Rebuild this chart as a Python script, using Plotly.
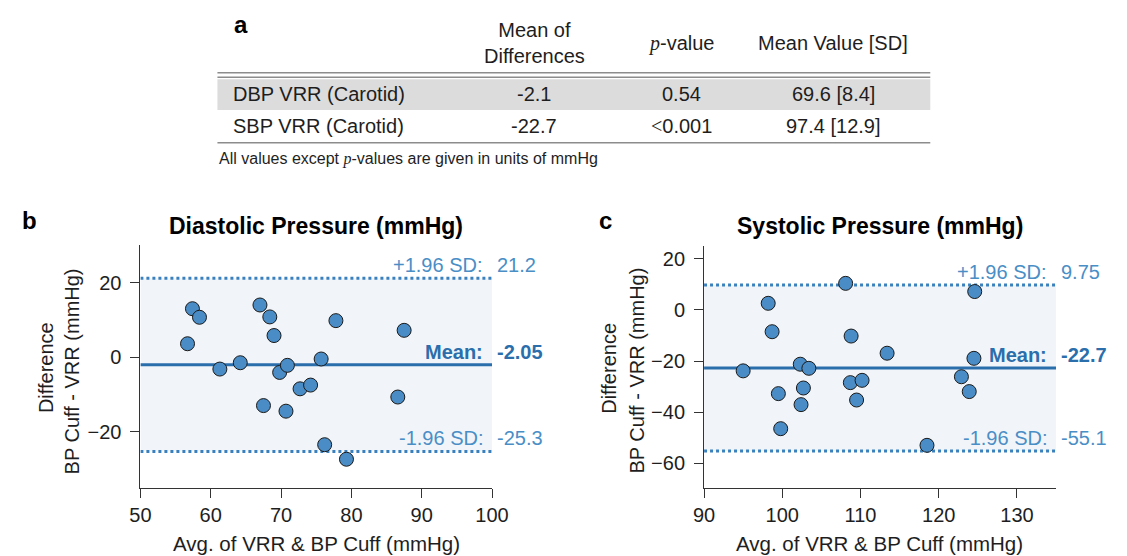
import plotly.graph_objects as go

W, H = 1127, 556

# ---- Bland-Altman data: diastolic ----
dbp_avg = [56.7, 57.4, 58.4, 61.3, 64.2, 67.0, 67.5, 68.4, 69.0, 69.8,
           70.9, 70.7, 72.7, 74.2, 75.7, 76.2, 77.8, 79.3, 86.6, 87.5]
dbp_diff = [3.6, 13.0, 10.7, -3.2, -1.5, 14.0, -13.0, 10.8, 5.8, -4.1,
            -2.2, -14.5, -8.5, -7.5, -0.5, -23.5, 9.8, -27.4, -10.7, 7.2]
dbp_loa = [21.2, -2.05, -25.3]          # upper limit, mean, lower limit

# ---- Bland-Altman data: systolic ----
sbp_avg = [95.0, 98.2, 98.7, 99.5, 99.8, 102.3, 103.4, 102.7, 102.4, 108.1,
           108.8, 108.7, 110.2, 109.5, 113.4, 118.5, 122.9, 123.9, 124.5, 124.6]
sbp_diff = [-23.8, 2.6, -8.5, -32.7, -46.4, -21.2, -22.8, -30.5, -37.0, 10.4,
            -10.2, -28.4, -27.5, -35.2, -16.9, -52.9, -26.1, -31.9, -18.9, 7.2]
sbp_loa = [9.75, -22.7, -55.1]

# ---- axis ticks ----
dbp_xticks = [50, 60, 70, 80, 90, 100]
dbp_yticks = [-20, 0, 20]
sbp_xticks = [90, 100, 110, 120, 130]
sbp_yticks = [-60, -40, -20, 0, 20]

# ---- summary table ----
table_header = ["Mean of<br>Differences", "PVAL-value", "Mean Value [SD]"]
table_rows = ["DBP VRR (Carotid)", "SBP VRR (Carotid)"]
table_mean_diff = ["-2.1", "-22.7"]
table_pvalue = ["0.54", "LT0.001"]
table_mean_sd = ["69.6 [8.4]", "97.4 [12.9]"]

FONT = "Liberation Sans, Arial, Helvetica, sans-serif"
SERIF_P = '<span style="font-family:Liberation Serif"><i>p</i></span>'
SERIF_LT = '<span style="font-family:Liberation Serif">&lt;</span>'
AX = "#333333"
PT_FILL = "#4a8cc5"
MEAN_COL = "#2b6eac"
DOT_COL = "#3a80bd"
LAB_COL = "#4a8ec6"
SHADE = "#f1f5f9"
TXT = "#1e1e1e"


def px(x):
    return x / W


def py(y):
    return 1 - y / H


fig = go.Figure()

for xs, ys, xa, ya in ((dbp_avg, dbp_diff, "x", "y"), (sbp_avg, sbp_diff, "x2", "y2")):
    fig.add_trace(go.Scatter(
        x=xs, y=ys, mode="markers", xaxis=xa, yaxis=ya,
        marker=dict(size=14, color=PT_FILL, line=dict(color="#1a1a1a", width=1)),
        showlegend=False, hoverinfo="x+y"))

shapes = []
annotations = []


def add_loa(xref, yref, xlo, xhi, loa):
    upper, mean, lower = loa
    shapes.append(dict(type="rect", xref=xref, yref=yref, x0=xlo, x1=xhi,
                       y0=lower, y1=upper, fillcolor=SHADE,
                       line=dict(width=0), layer="below"))
    for val, is_mean in ((upper, False), (lower, False), (mean, True)):
        shapes.append(dict(
            type="line", xref=xref, yref=yref, x0=xlo, x1=xhi, y0=val, y1=val,
            line=dict(color=MEAN_COL if is_mean else DOT_COL, width=3,
                      dash="solid" if is_mean else "dot"),
            layer="below"))
    labels = ((upper, "+1.96 SD:", False), (mean, "Mean:", True),
              (lower, "-1.96 SD:", False))
    for val, name, is_mean in labels:
        col = MEAN_COL if is_mean else LAB_COL
        txt = f"<b>{name}</b>" if is_mean else name
        vtxt = f"<b>{val:g}</b>" if is_mean else f"{val:g}"
        annotations.append(dict(
            xref=xref, yref=yref, x=xhi, y=val, text=txt, showarrow=False,
            xanchor="right", yanchor="middle", xshift=-7, yshift=13,
            font=dict(family=FONT, size=20, color=col)))
        annotations.append(dict(
            xref=xref, yref=yref, x=xhi, y=val, text=vtxt, showarrow=False,
            xanchor="left", yanchor="middle", xshift=3, yshift=13,
            font=dict(family=FONT, size=20, color=col)))


add_loa("x", "y", dbp_xticks[0], dbp_xticks[-1], dbp_loa)
add_loa("x2", "y2", sbp_xticks[0], 135, sbp_loa)


def text(x, y, s, size=20, anchor="center", bold=False, angle=0, color=TXT,
         vanchor="middle"):
    annotations.append(dict(
        xref="paper", yref="paper", x=px(x), y=py(y),
        text=f"<b>{s}</b>" if bold else s, showarrow=False,
        xanchor=anchor, yanchor=vanchor, textangle=angle, borderpad=0,
        font=dict(family=FONT, size=size, color=color)))


# panel titles and letters
text(19, 220, "b", size=24, bold=True, color="#000000")
text(610, 221, "c", size=24, bold=True, color="#000000")
text(236, 25, "a", size=24, bold=True, color="#000000")
text(313, 226, "Diastolic Pressure (mmHg)", size=23, bold=True, color="#000000")
text(891, 226, "Systolic Pressure (mmHg)", size=23, bold=True, color="#000000")

# axis titles
text(313, 556, "Avg. of VRR &amp; BP Cuff (mmHg)", size=20.5, vanchor="bottom")
text(891, 556, "Avg. of VRR &amp; BP Cuff (mmHg)", size=20.5, vanchor="bottom")
for xc1, xc2 in ((36, 63), (613, 641.5)):
    text(xc1, 368, "Difference", angle=-90, size=20)
    text(xc2, 371, "BP Cuff - VRR (mmHg)", angle=-90, size=20)

# summary table
TL, TR = 211.7, 942.7
shapes.append(dict(type="rect", xref="paper", yref="paper",
                   x0=px(TL), x1=px(TR), y0=py(110), y1=py(79.3),
                   fillcolor="#dcdcdc", line=dict(width=0), layer="below"))
for yy in (72.7, 77.3, 142.7):
    shapes.append(dict(type="line", xref="paper", yref="paper",
                       x0=px(TL), x1=px(TR), y0=py(yy), y1=py(yy),
                       line=dict(color="#8c8c8c", width=1.5)))

col_x = [536.5, 687.5, 843]
text(col_x[0], 43.3, table_header[0])
text(col_x[1], 43.3, table_header[1].replace("PVAL", SERIF_P))
text(col_x[2], 43.3, table_header[2])
for i, yy in enumerate((94.3, 126)):
    text(227, yy, table_rows[i], anchor="left")
    text(col_x[0], yy, table_mean_diff[i])
    text(col_x[1], yy, table_pvalue[i].replace("LT", SERIF_LT))
    text(col_x[2], yy, table_mean_sd[i])
text(212, 159, f"All values except {SERIF_P}-values are given in units of mmHg",
     size=16, anchor="left")

axis_common = dict(showline=True, linecolor=AX, linewidth=1, ticks="outside",
                   ticklen=9, tickcolor=AX, tickwidth=1, showgrid=False,
                   zeroline=False, tickfont=dict(family=FONT, size=20, color=TXT))

fig.update_layout(
    width=W, height=H, margin=dict(l=0, r=0, t=0, b=0),
    paper_bgcolor="white", plot_bgcolor="white",
    showlegend=False,
    xaxis=dict(domain=[px(132.7), px(493.3)], range=[50, 100],
               tickvals=dbp_xticks, anchor="y", **axis_common),
    yaxis=dict(domain=[py(488.3), py(245)], range=[-35.2, 30.1],
               tickvals=dbp_yticks, anchor="x", ticklabelstandoff=5, **axis_common),
    xaxis2=dict(domain=[px(710.7), px(1071.7)], range=[90, 135],
                tickvals=sbp_xticks, anchor="y2", **axis_common),
    yaxis2=dict(domain=[py(488.3), py(246)], range=[-69.7, 25],
                tickvals=sbp_yticks, anchor="x2", ticklabelstandoff=5, **axis_common),
    shapes=shapes, annotations=annotations,
)

fig.write_html("out.html")
